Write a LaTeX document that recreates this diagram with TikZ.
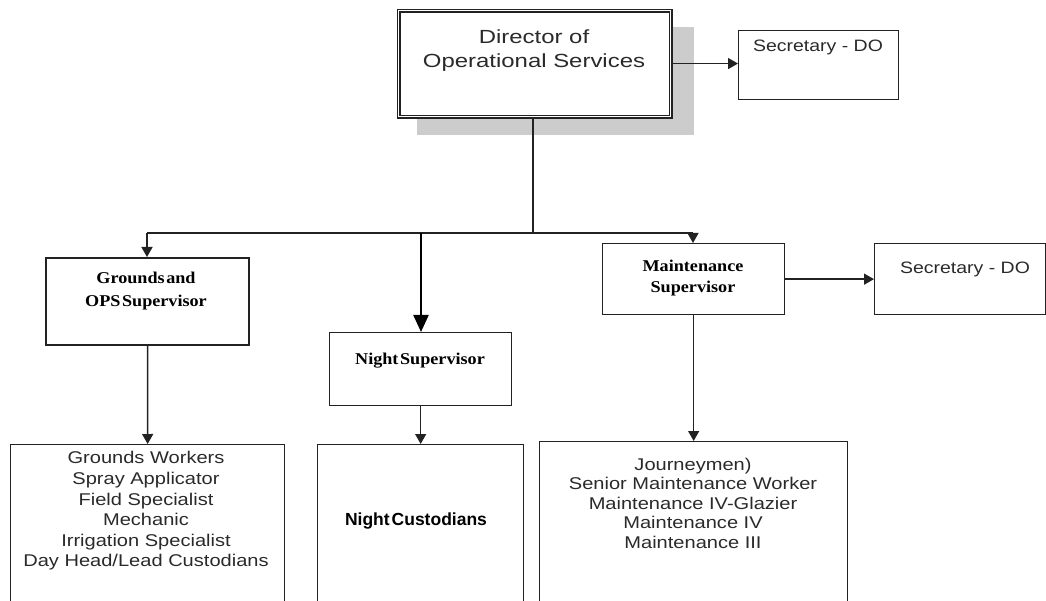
\documentclass[tikz,border=0pt]{standalone}
\usepackage{fontspec}
\usetikzlibrary{arrows.meta,calc}
\newfontfamily\fdir[FakeStretch=1.26]{Liberation Sans}
\newfontfamily\fsec[FakeStretch=1.18]{Liberation Sans}
\newfontfamily\fwork[FakeStretch=1.18]{Liberation Sans}
\newfontfamily\fnc[WordSpace=0.4]{Liberation Sans}
\newfontfamily\fser[FakeStretch=1.1,WordSpace=0.35]{Liberation Serif}
\definecolor{ink}{HTML}{222222}
\definecolor{txt}{HTML}{2A2A2A}
\definecolor{shadowgray}{HTML}{CCCCCC}
\tikzset{
  box/.style={draw=ink, line width=1.3pt, rectangle, inner sep=0pt, anchor=north west},
  lbl/.style={inner sep=0pt, align=center, text=txt},
  conn/.style={draw=ink, line width=1.4pt},
  arr/.style={conn, -{Triangle[width=11pt,length=10pt]}},
  bigarr/.style={draw=black, line width=2.3pt, -{Triangle[width=15pt,length=17pt]}},
}
\begin{document}
\begin{tikzpicture}[x=1pt,y=-1pt]
\useasboundingbox (0,0) rectangle (1046,601);
\begin{scope}
\clip (0,0) rectangle (1046,601);
% shadow
\fill[shadowgray] (417,27) rectangle (694,135);
% boxes
\node[box, draw=none, fill=white, minimum width=274pt, minimum height=108pt] (dirbg) at (397,9) {};
\node[box, line width=1.1pt, double=white, double distance=1.8pt, minimum width=272pt, minimum height=106pt] (dir) at (398,10) {};
\node[box, minimum width=160pt, minimum height=69pt] (sec1) at (738,30) {};
\node[box, line width=2.2pt, minimum width=203pt, minimum height=87pt] (grounds) at (45,257) {};
\node[box, minimum width=182pt, minimum height=73pt] (nightsup) at (329,332) {};
\node[box, minimum width=182pt, minimum height=71pt] (maintsup) at (602,243) {};
\node[box, minimum width=171pt, minimum height=71pt] (sec2) at (874,243) {};
\node[box, minimum width=274pt, minimum height=170pt] (gwork) at (10,444) {};
\node[box, minimum width=206pt, minimum height=170pt] (ncust) at (317,444) {};
\node[box, minimum width=308pt, minimum height=170pt] (mwork) at (539,441) {};
% texts
\node[lbl, font=\fdir\fontsize{19}{24}\selectfont] (tdir) at (534,51) {Director of\\Operational Services};
\node[lbl, font=\fsec\fontsize{16.5}{20}\selectfont] (tsec1) at (818,47) {Secretary - DO};
\node[lbl, text=black, font=\fser\bfseries\fontsize{16.5}{23}\selectfont] (tgr) at (146,291) {Grounds and\\OPS Supervisor};
\node[lbl, text=black, font=\fser\bfseries\fontsize{16.5}{20}\selectfont] (tns) at (420,361) {Night Supervisor};
\node[lbl, text=black, font=\fser\bfseries\fontsize{16.5}{21}\selectfont] (tms) at (693,278) {Maintenance\\Supervisor};
\node[lbl, font=\fsec\fontsize{16.5}{20}\selectfont] (tsec2) at (965,269) {Secretary - DO};
\node[lbl, font=\fwork\fontsize{17}{20.6}\selectfont] (tgw) at (146,511) {Grounds Workers\\Spray Applicator\\Field Specialist\\Mechanic\\Irrigation Specialist\\Day Head/Lead Custodians};
\node[lbl, text=black, font=\fnc\bfseries\fontsize{17.5}{20}\selectfont] (tnc) at (416,521) {Night Custodians};
\node[lbl, font=\fwork\fontsize{17}{19.5}\selectfont] (tmw) at (693,503) {Journeymen)\\Senior Maintenance Worker\\Maintenance IV-Glazier\\Maintenance IV\\Maintenance III};
% connectors
\coordinate (hub) at (533,233);
\coordinate (hubL) at (147,233);
\coordinate (hubN) at (421,233);
\coordinate (hubR) at (693,233);
\draw[conn] (dir.south -| hub) -- (hub);
\draw[conn] (hubL) -- (hubR);
\draw[arr] (hubL) -- (hubL |- grounds.north);
\draw[arr] (hubR) -- (hubR |- maintsup.north);
\draw[bigarr] (hubN) -- (hubN |- nightsup.north);
\draw[arr] (dir.east) -- (sec1.west |- dir.east);
\draw[arr] (maintsup.east) -- (sec2.west |- maintsup.east);
\draw[arr] (grounds.south) -- (gwork.north);
\draw[arr] (nightsup.south) -- (ncust.north);
\draw[arr] (maintsup.south) -- (mwork.north);
\end{scope}
\end{tikzpicture}
\end{document}
